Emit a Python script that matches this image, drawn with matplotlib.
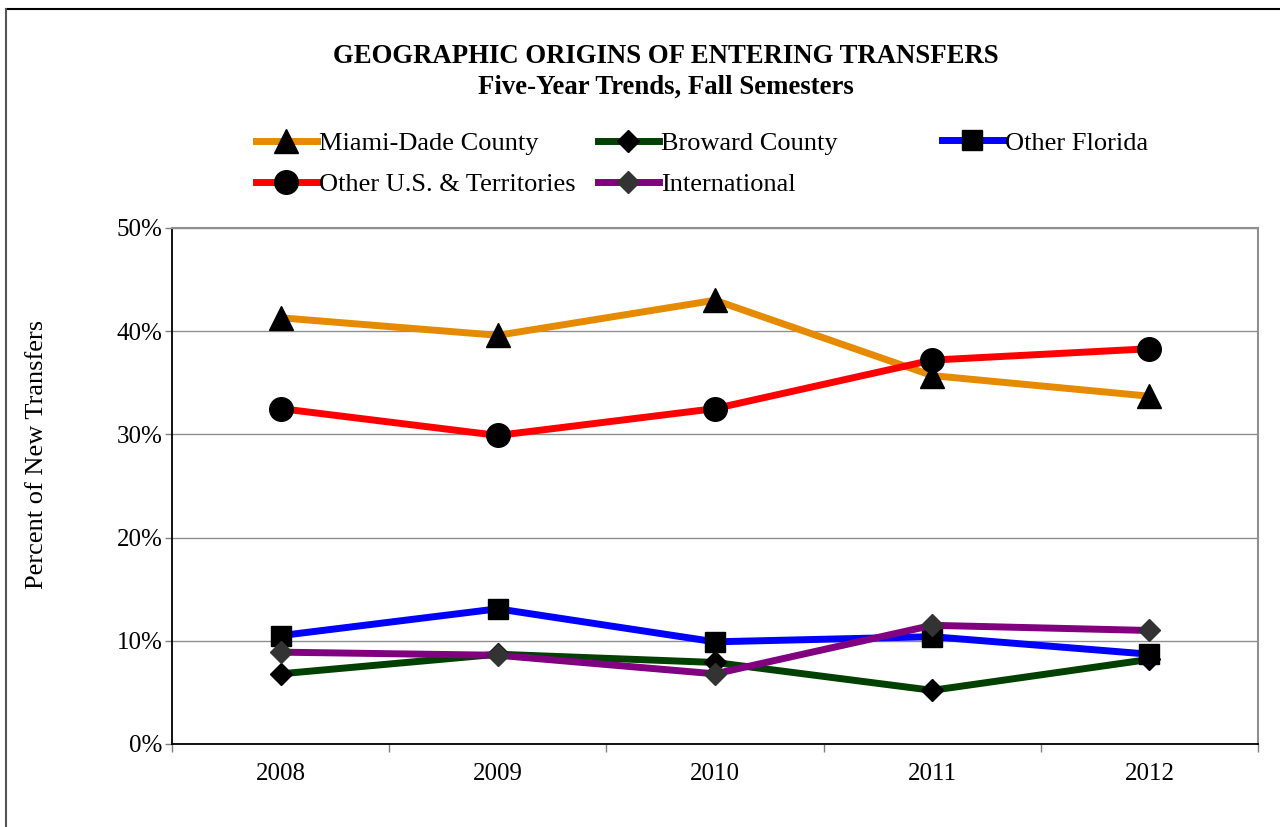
import matplotlib.pyplot as plt
from matplotlib.lines import Line2D
import numpy as np

plt.rcParams['font.family'] = ['Liberation Serif', 'DejaVu Serif']

years = ['2008', '2009', '2010', '2011', '2012']
miami_dade = [41.3, 39.6, 43.0, 35.7, 33.7]
broward = [6.8, 8.7, 7.9, 5.2, 8.2]
other_florida = [10.5, 13.1, 9.9, 10.4, 8.7]
other_us = [32.5, 29.9, 32.5, 37.2, 38.3]
international = [8.9, 8.6, 6.8, 11.5, 11.0]

fig = plt.figure(figsize=(12.8, 8.27), dpi=100)
ax = fig.add_axes([172 / 1280, 83 / 827, 1086 / 1280, 516 / 827])

x = np.arange(len(years))

# series drawn in the original order
l_miami, = ax.plot(x, miami_dade, color='#E68A00', lw=5, marker='^', ms=17,
                   mfc='black', mec='black', label='Miami-Dade County', zorder=3)
l_broward, = ax.plot(x, broward, color='#004000', lw=5, marker='D', ms=11,
                     mfc='black', mec='black', label='Broward County', zorder=3)
l_fl, = ax.plot(x, other_florida, color='#0000FF', lw=5, marker='s', ms=14,
                mfc='black', mec='black', label='Other Florida', zorder=3)
l_us, = ax.plot(x, other_us, color='#FF0000', lw=5, marker='o', ms=17,
                mfc='black', mec='black', label='Other U.S. & Territories', zorder=3)
l_int, = ax.plot(x, international, color='#800080', lw=5, marker='D', ms=11,
                 mfc='#333333', mec='#333333', label='International', zorder=3)

ax.set_xlim(-0.5, len(years) - 0.5)
ax.set_ylim(0, 50)
ax.set_yticks(np.arange(0, 51, 10))
ax.set_yticklabels([f'{v}%' for v in range(0, 51, 10)], fontsize=18)
ax.set_xticks(x)
ax.set_xticklabels(years, fontsize=18)
ax.set_xticks(np.arange(-0.5, len(years), 1), minor=True)
ax.tick_params(axis='x', which='major', length=0, pad=14)
ax.tick_params(axis='x', which='minor', length=6, color='#808080', width=1)
ax.tick_params(axis='y', length=5, color='#808080', width=1, pad=2)
ax.grid(axis='y', color='#909090', lw=1)
ax.set_axisbelow(True)

for s in ['top', 'right']:
    ax.spines[s].set_color('#909090')
    ax.spines[s].set_linewidth(1.5)
ax.spines['left'].set_color('black')
ax.spines['bottom'].set_color('black')
ax.spines['left'].set_linewidth(1.3)
ax.spines['bottom'].set_linewidth(1.3)

ax.set_ylabel('Percent of New Transfers', fontsize=19, va='center')
ax.yaxis.set_label_coords(-0.124, 0.562)

fig.text(0.52, 0.932, 'GEOGRAPHIC ORIGINS OF ENTERING TRANSFERS',
         ha='center', va='center', fontsize=19.3, fontweight='bold')
fig.text(0.52, 0.894, 'Five-Year Trends, Fall Semesters',
         ha='center', va='center', fontsize=19.3, fontweight='bold')

leg_kw = dict(frameon=False, fontsize=19, handlelength=2.3, handletextpad=0.1,
              borderpad=0, borderaxespad=0, labelspacing=0.68, loc='center left')
leg1 = fig.legend(handles=[l_miami, l_us], bbox_to_anchor=(256 / 1280, 1 - 164 / 827), **leg_kw)
leg2 = fig.legend(handles=[l_broward, l_int], bbox_to_anchor=(598 / 1280, 1 - 164 / 827), **leg_kw)
leg3 = fig.legend(handles=[l_fl], bbox_to_anchor=(942 / 1280, 1 - 143 / 827), **leg_kw)

# outer frame of the chart object
fig.add_artist(Line2D([6 / 1280, 1.0], [1 - 9 / 827, 1 - 9 / 827],
                      transform=fig.transFigure, color='black', lw=1.5))
fig.add_artist(Line2D([6 / 1280, 6 / 1280], [0, 1 - 9 / 827],
                      transform=fig.transFigure, color='#555555', lw=1.5))

fig.savefig('out.png', dpi=100)
